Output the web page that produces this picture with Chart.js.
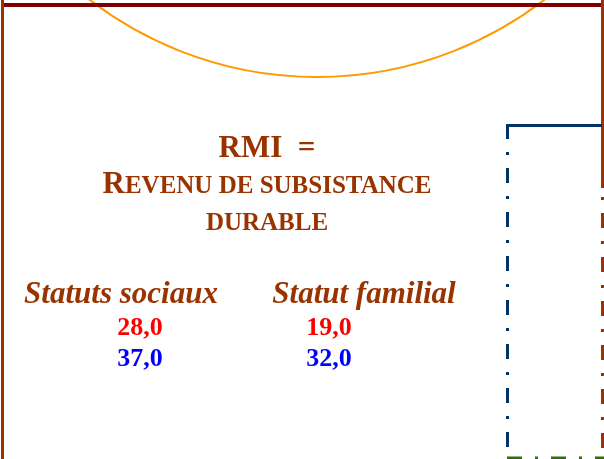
<!DOCTYPE html>
<html>
<head>
<meta charset="utf-8">
<script src="https://cdn.jsdelivr.net/npm/chart.js@4.4.1/dist/chart.umd.min.js"></script>
<style>
  html, body { margin: 0; padding: 0; background: #ffffff; }
  #wrap { width: 604px; height: 459px; }
</style>
</head>
<body>
<div id="wrap"><canvas id="chartRmi" width="604" height="459"></canvas></div>
<script>
// ── Données ─────────────────────────────
const CATEGORIES   = ['Statuts sociaux', 'Statut familial'];
const SERIE_ROUGE  = [28.0, 19.0];
const SERIE_BLEUE  = [37.0, 32.0];
const TITRE        = ['RMI  =', 'Revenu de subsistance', 'durable'];

const SERIF = '"Liberation Serif", "Times New Roman", serif';
const BRUN  = '#993300';

const fmtFr = v => v.toFixed(1).replace('.', ',');

// ── Décor de la diapositive + textes ────
const decorPlugin = {
  id: 'decor',
  afterDraw(chart) {
    const ctx = chart.ctx;
    ctx.save();

    // arc orange (cercle coupé par le haut)
    ctx.strokeStyle = '#FF9900';
    ctx.lineWidth = 2;
    ctx.beginPath();
    ctx.arc(317, -296, 373, 0, Math.PI);
    ctx.stroke();

    // cadre : bord gauche, barre du haut, bord droit
    ctx.fillStyle = BRUN;
    ctx.fillRect(1, 0, 3, 459);
    ctx.fillStyle = '#800000';
    ctx.fillRect(4, 3, 598, 4);
    ctx.fillStyle = BRUN;
    ctx.fillRect(601, 0, 3, 188);

    // traits mixtes
    const dashDot = (color, x1, y1, x2, y2, offset) => {
      ctx.strokeStyle = color;
      ctx.lineWidth = 3;
      ctx.setLineDash([15, 13, 3, 13]);
      ctx.lineDashOffset = offset || 0;
      ctx.beginPath();
      ctx.moveTo(x1, y1);
      ctx.lineTo(x2, y2);
      ctx.stroke();
    };
    ctx.strokeStyle = '#003366';
    ctx.lineWidth = 3;
    ctx.setLineDash([]);
    ctx.beginPath();
    ctx.moveTo(602, 125.5);
    ctx.lineTo(507.5, 125.5);
    ctx.stroke();
    dashDot('#003366', 507.5, 124, 507.5, 449, 0);
    dashDot(BRUN, 602.5, 197, 602.5, 459, 28);
    dashDot('#3A6B0A', 507, 458, 604, 458, 0);
    ctx.setLineDash([]);

    // titre
    ctx.fillStyle = BRUN;
    ctx.textBaseline = 'alphabetic';
    ctx.textAlign = 'center';
    ctx.font = 'bold 31px ' + SERIF;
    ctx.fillText(TITRE[0], 267, 157);

    // petites capitales, ligne 2
    const first = TITRE[1][0];
    const rest  = TITRE[1].slice(1).toUpperCase();
    ctx.textAlign = 'left';
    ctx.font = 'bold 31px ' + SERIF;
    const w1 = ctx.measureText(first).width;
    ctx.font = 'bold 25px ' + SERIF;
    const w2 = ctx.measureText(rest).width;
    const x0 = 267 - (w1 + w2) / 2;
    ctx.font = 'bold 31px ' + SERIF;
    ctx.fillText(first, x0, 193);
    ctx.font = 'bold 25px ' + SERIF;
    ctx.fillText(rest, x0 + w1, 193);

    ctx.textAlign = 'center';
    ctx.font = 'bold 25px ' + SERIF;
    ctx.fillText(TITRE[2].toUpperCase(), 267, 230);

    // en-têtes de colonnes
    const HEADER_X = [121, 364];
    ctx.font = 'italic bold 31px ' + SERIF;
    CATEGORIES.forEach((c, i) => ctx.fillText(c, HEADER_X[i], 303));

    // valeurs, une ligne par série
    const ROWS = [335, 366];
    ctx.font = 'bold 26px ' + SERIF;
    chart.data.datasets.forEach((ds, di) => {
      ctx.fillStyle = ds.textColor;
      chart.getDatasetMeta(di).data.forEach((pt, i) => {
        ctx.fillText(fmtFr(ds.data[i]), pt.x, ROWS[di]);
      });
    });

    ctx.restore();
  }
};

new Chart(document.getElementById('chartRmi'), {
  type: 'line',
  data: {
    labels: CATEGORIES,
    datasets: [
      { label: 'rouge', data: SERIE_ROUGE, textColor: '#FF0000', showLine: false, pointRadius: 0 },
      { label: 'bleu',  data: SERIE_BLEUE, textColor: '#0000FF', showLine: false, pointRadius: 0 }
    ]
  },
  options: {
    responsive: false,
    devicePixelRatio: 1,
    animation: false,
    layout: { padding: { left: 45.5, right: 180.5, top: 0, bottom: 0 } },
    plugins: { legend: { display: false }, tooltip: { enabled: false } },
    scales: {
      x: { display: false, offset: true },
      y: { display: false, min: 0, max: 50 }
    }
  },
  plugins: [decorPlugin]
});
</script>
</body>
</html>
